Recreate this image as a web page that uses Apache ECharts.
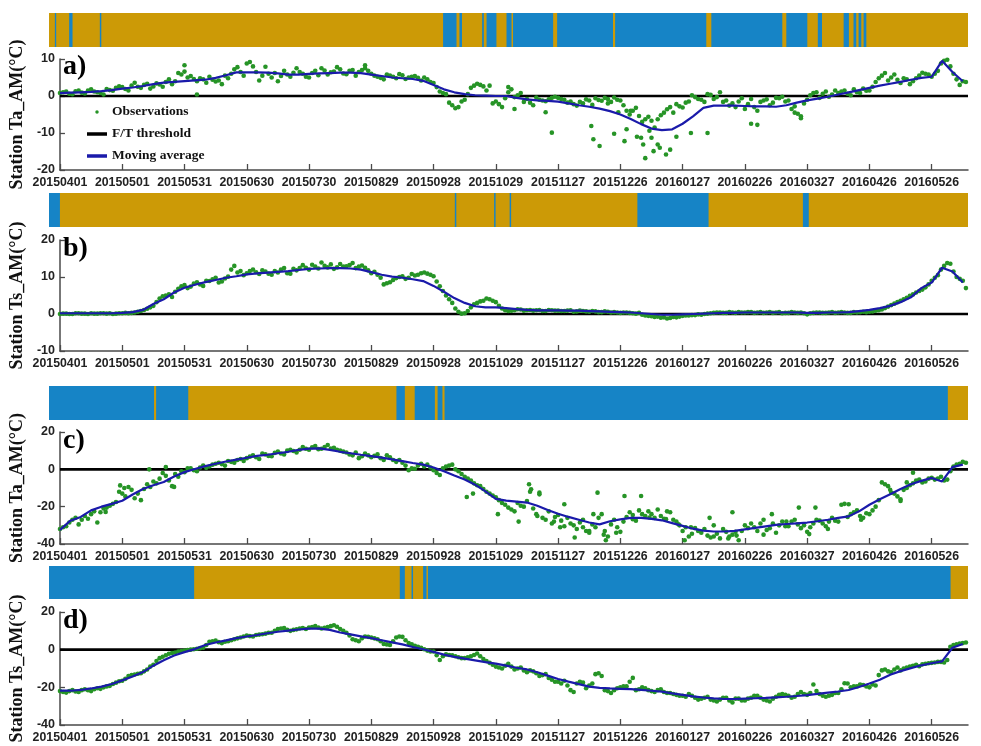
<!DOCTYPE html>
<html><head><meta charset="utf-8">
<script src="https://cdn.jsdelivr.net/npm/echarts@6/dist/echarts.min.js"></script>
<style>html,body{margin:0;padding:0;background:#fff}#c{width:981px;height:746px}</style>
</head><body><div id="c"></div>
<script>
// ---------------- DATA ----------------
const tickLabels = ['20150401','20150501','20150531','20150630','20150730','20150829','20150928','20151029','20151127','20151226','20160127','20160226','20160327','20160426','20160526'];
const X_MAX = 437.5;    // last day index shown
const OBS_STEP = 3;     // observation samples every 3 days
const OBS2_OFFSET = 1.5;// second observation set sits half-way between the first
const MA_STEP = 5;      // moving average sampled every 5 days

// Panel a: station Ta_AM
const obsA = [0.8,1.2,0.5,1.5,0.7,1.8,1.0,0.4,1.6,2.2,
  2.4,1.5,3.6,2.2,3.3,2.6,3.1,3.8,3.2,6.2,
  6.6,5.4,4.0,4.5,5.2,3.9,3.2,4.8,7.2,6.5,
  8.8,8.0,4.2,7.9,5.0,4.0,6.8,5.2,7.5,6.0,
  5.0,6.8,7.5,5.8,6.6,7.2,5.9,7.0,6.5,7.5,
  6.0,5.2,4.5,5.5,4.8,5.6,5.0,5.4,4.2,4.5,
  3.5,1.2,0.5,-2.5,-3.0,-1.0,2.2,3.3,2.6,2.8,
  -1.5,-3.0,2.4,-0.3,0.8,-0.8,-2.5,-1.0,-1.4,-0.5,
  -0.5,-1.0,-1.5,-2.6,-2.0,-1.2,-0.6,-1.3,-0.8,-0.4,
  -1.2,-4.0,-4.0,-5.4,-6.3,-6.7,-6.3,-4.5,-3.0,-2.2,
  -3.1,-1.5,-0.3,-1.0,0.5,-0.8,1.0,-1.2,-2.0,-1.5,
  -3.5,-0.8,-4.0,-1.2,-2.5,-0.5,-0.2,-1.2,-2.8,-5.5,
  -1.0,0.8,-0.5,1.2,0.4,0.8,1.5,0.2,1.0,2.0,
  1.5,3.8,5.5,4.2,5.8,3.5,4.5,4.0,5.5,6.0,
  5.2,6.8,9.5,8.0,4.5,4.0];
const obsA2 = [1.0,0.6,1.3,0.9,1.5,1.2,0.8,1.9,1.4,2.6,
  1.9,2.8,2.5,3.0,2.0,3.4,2.5,4.5,4.0,5.8,
  5.0,4.6,4.8,3.6,4.4,4.2,5.5,6.0,7.8,5.5,
  9.2,6.5,5.5,6.0,6.2,5.4,5.8,6.3,6.5,5.2,
  6.2,5.6,6.9,6.4,7.8,6.1,6.8,5.5,7.0,6.8,
  5.5,4.9,5.8,5.2,5.9,4.6,5.2,4.9,5.0,3.8,
  2.4,0.8,-1.8,-3.3,-1.5,0.5,2.8,3.0,1.5,-2.0,
  -2.2,-0.6,1.8,0.2,-1.6,-1.8,-0.4,-1.2,-0.9,-0.2,
  -0.8,-1.8,-2.2,-1.6,-0.9,-2.4,-1.1,-0.5,-1.6,-1.0,
  -2.5,-5.0,-3.2,-7.0,-5.6,-8.5,-5.2,-3.6,-4.5,-2.8,
  -1.8,0.2,-0.8,-1.6,0.3,-0.3,-1.6,-2.6,-3.0,-0.6,
  -2.2,-3.0,-1.6,-0.9,-1.8,-0.6,-1.5,-3.5,-4.8,-2.0,
  0.2,1.0,0.6,-0.2,1.5,1.2,0.6,1.8,0.8,1.4,
  2.5,4.8,6.2,5.0,4.4,4.8,3.2,4.8,6.3,5.8,
  6.0,8.8,9.8,6.0,3.0,3.8];
const extraDayA = [60,66,91,147,216,219,234,237,256,257,260,264,267,269,272,273,275,278,280,281,282,284,285,286,288,289,292,294,297,304,312,333,336,354,357];
const extraValA = [8.3,0.4,10.5,8.3,1.0,-3.5,-4.4,-9.9,-8.1,-11.7,-13.5,-2.0,-10.2,-4.4,-12.2,-9.0,-4.0,-11.0,-11.3,-13.1,-16.8,-9.4,-11.3,-14.9,-13.1,-14.0,-15.8,-14.5,-11.0,-10.0,-10.0,-7.5,-7.8,-4.5,-6.0];
const maA = [0.8,0.9,1.0,1.1,1.3,1.6,2.0,2.3,2.7,3.2,
  3.6,3.8,4.0,4.2,4.4,4.9,5.6,6.4,6.4,6.4,
  6.3,6.1,5.8,5.8,6.0,6.1,6.2,6.3,6.3,6.2,
  5.8,5.4,5.0,4.8,4.6,4.1,3.0,1.8,1.0,0.5,
  0.2,0.1,0.0,0.0,-0.5,-0.9,-1.2,-1.3,-1.5,-2.0,
  -2.5,-2.9,-3.4,-4.1,-5.0,-6.2,-7.6,-8.8,-9.2,-9.0,
  -7.5,-5.5,-3.2,-2.6,-2.6,-2.6,-2.7,-2.8,-2.8,-2.9,
  -2.5,-1.8,-1.2,-0.7,-0.2,0.4,1.0,1.6,2.2,2.8,
  3.3,3.8,4.4,4.9,5.2,9.5,6.5,4.0];

// Panel b: station Ts_AM
const obsB = [0.0,0.1,0.0,0.2,0.1,0.2,0.1,0.2,0.2,0.1,
  0.2,0.2,0.4,0.8,1.4,2.2,4.2,5.0,4.6,6.8,
  7.8,7.4,8.6,7.6,8.9,9.8,8.8,10.1,13.0,11.6,
  11.0,12.0,10.8,11.5,10.6,11.2,12.4,10.9,11.8,13.2,
  12.0,12.8,13.9,12.6,12.2,13.5,12.9,13.8,12.8,12.5,
  11.0,10.6,8.0,8.6,9.7,10.2,9.8,10.4,11.0,10.9,
  10.2,7.5,5.0,3.0,0.6,0.2,1.8,3.0,3.6,4.0,
  3.2,1.5,0.8,1.0,1.2,1.0,0.9,1.1,0.8,1.0,
  0.9,0.8,1.0,0.7,0.8,0.6,0.7,0.5,0.6,0.5,
  0.3,0.4,0.2,0.3,-0.4,-0.6,-0.7,-0.9,-1.1,-0.9,
  -0.5,-0.4,-0.3,-0.2,0.1,0.3,0.4,0.3,0.4,0.5,
  0.4,0.5,0.4,0.3,0.5,0.4,0.2,0.3,0.4,0.4,
  -0.1,0.3,0.4,0.3,0.5,0.4,0.4,0.3,0.4,0.6,
  0.6,0.9,1.2,2.0,2.8,3.6,4.4,5.3,6.2,7.2,
  9.0,10.5,13.0,13.6,10.0,9.0];
const obsB2 = [0.1,0.0,0.2,0.1,0.0,0.1,0.2,0.1,0.0,0.2,
  0.3,0.3,0.6,1.1,1.8,3.2,4.8,5.3,6.0,7.5,
  7.0,8.2,8.0,9.0,9.4,8.5,9.6,12.0,11.2,10.5,
  11.6,11.3,11.8,10.9,11.6,12.0,11.0,12.2,12.4,12.5,
  13.3,12.3,13.0,13.4,12.6,12.8,13.2,12.4,13.1,11.8,
  11.4,9.8,8.3,9.2,10.0,9.5,10.8,10.6,11.2,10.6,
  8.8,6.2,4.0,1.5,0.1,0.8,2.6,3.4,4.2,3.6,
  2.2,1.0,0.9,1.3,0.9,1.1,1.0,0.8,1.1,0.9,
  0.8,0.9,0.6,0.9,0.7,0.8,0.5,0.7,0.4,0.4,
  0.4,0.3,0.1,-0.2,-0.5,-0.8,-1.0,-1.2,-0.8,-0.7,
  -0.4,-0.3,-0.1,0.0,0.2,0.4,0.3,0.5,0.3,0.4,
  0.5,0.3,0.5,0.4,0.3,0.5,0.3,0.5,0.3,0.2,
  0.2,0.4,0.3,0.4,0.3,0.5,0.3,0.5,0.5,0.5,
  0.7,1.0,1.6,2.4,3.2,4.0,4.9,5.8,6.6,8.0,
  9.8,12.0,13.8,11.5,9.5,7.0];
const extraDayB = [];
const extraValB = [];
const maB = [0.2,0.2,0.2,0.2,0.2,0.2,0.3,0.5,1.1,2.7,
  4.0,5.8,7.1,7.9,8.6,9.2,9.8,10.2,10.7,11.0,
  11.2,11.4,11.6,11.9,12.2,12.3,12.4,12.4,12.3,12.0,
  11.3,10.6,10.1,9.8,9.4,8.9,7.6,6.0,4.3,3.0,
  2.1,1.8,1.8,1.6,1.3,1.1,1.0,1.0,1.0,0.9,
  0.9,0.8,0.7,0.6,0.5,0.4,0.2,0.0,-0.2,-0.2,
  -0.1,0.0,0.1,0.2,0.3,0.3,0.4,0.4,0.4,0.4,
  0.4,0.4,0.3,0.3,0.4,0.4,0.5,0.8,1.1,1.6,
  2.2,3.2,4.5,7.0,8.5,12.5,11.5,8.5];

// Panel c: station Ta_AM
const obsC = [-32.0,-30.5,-27.0,-29.5,-25.0,-24.0,-28.5,-21.0,-19.5,-17.5,
  -13.0,-9.5,-15.5,-16.5,-8.0,-6.5,-5.0,-3.5,-9.0,-4.0,
  -1.5,0.5,-1.0,2.0,1.5,3.0,2.8,4.5,3.5,5.5,
  6.0,7.5,5.5,8.0,7.0,9.5,8.0,10.5,9.0,12.0,
  10.5,12.5,11.0,13.0,11.5,10.0,9.0,7.5,6.0,8.5,
  6.5,8.0,5.0,6.5,4.0,3.5,-0.5,0.3,3.0,2.5,
  -0.5,-3.0,1.5,2.5,-1.0,-4.0,-6.0,-8.5,-10.5,-13.0,
  -15.0,-18.0,-20.5,-22.5,-19.5,-17.0,-21.0,-12.5,-27.0,-29.0,
  -24.5,-30.5,-29.0,-32.0,-27.0,-34.0,-31.0,-24.0,-36.0,-27.0,
  -33.5,-25.5,-24.5,-22.0,-25.0,-24.0,-21.5,-26.5,-23.0,-28.0,
  -33.0,-36.0,-31.5,-34.0,-35.5,-30.0,-37.0,-33.5,-35.0,-38.0,
  -30.0,-29.0,-33.0,-27.0,-31.5,-34.0,-28.0,-30.5,-27.0,-31.5,
  -33.5,-29.0,-27.5,-30.5,-26.0,-28.0,-18.5,-24.0,-22.0,-26.0,
  -24.0,-20.0,-7.0,-9.0,-13.0,-16.0,-10.0,-7.5,-5.5,-6.5,
  -4.5,-5.0,-6.0,-1.0,2.5,4.0];
const obsC2 = [-31.0,-28.5,-26.0,-27.0,-26.5,-22.5,-23.0,-20.5,-18.5,-12.0,
  -14.5,-11.0,-13.0,-10.5,-9.5,-7.5,-2.0,-6.0,-2.5,-1.0,
  0.5,-0.5,1.0,0.8,2.5,3.5,2.0,4.0,5.0,4.5,
  6.8,6.5,8.5,7.2,8.8,8.5,10.0,9.8,10.5,11.0,
  11.8,10.8,12.0,11.2,10.5,9.5,8.0,9.0,7.0,7.5,
  7.2,6.0,7.5,5.0,5.0,2.0,0.5,2.0,1.5,1.0,
  -2.0,0.5,2.0,0.0,-2.5,-5.0,-7.5,-9.0,-12.0,-14.0,
  -16.5,-19.0,-21.5,-18.0,-20.0,-12.0,-24.0,-26.0,-22.5,-25.5,
  -27.5,-26.0,-30.0,-28.5,-33.0,-29.5,-26.0,-33.0,-29.5,-31.0,
  -28.0,-23.0,-27.5,-24.0,-22.5,-26.0,-25.0,-22.5,-27.0,-30.0,
  -31.0,-34.5,-33.0,-32.0,-36.5,-34.5,-32.0,-36.0,-33.5,-33.0,
  -31.5,-31.0,-29.0,-32.5,-29.0,-30.0,-30.5,-28.0,-29.5,-30.0,
  -31.0,-27.0,-29.0,-28.0,-27.5,-19.0,-25.5,-23.0,-25.0,-23.5,
  -22.0,-16.5,-8.0,-12.5,-14.5,-11.0,-8.5,-6.0,-7.0,-5.0,
  -5.5,-4.0,-5.5,1.5,3.0,3.5];
const extraDayC = [22,29,31,43,51,55,196,199,211,221,226,227,230,231,238,241,243,248,252,255,257,259,262,263,268,272,276,280,284,292,298,301,304,313,315,322,324,326,339,343,350,356,361,364,370,380,386,400,405,408,411];
const extraValC = [-22.8,-8.6,-10.0,0.0,1.2,-9.4,-14.8,-13.0,-24.0,-28.0,-8.0,-10.7,-25.0,-13.4,-28.0,-31.0,-18.7,-36.5,-31.0,-33.0,-24.0,-12.5,-35.0,-38.0,-34.0,-14.3,-26.7,-14.3,-25.8,-26.7,-29.4,-38.0,-31.0,-26.0,-36.0,-37.0,-23.0,-35.5,-35.0,-24.0,-28.0,-20.5,-34.7,-20.5,-32.0,-18.7,-27.0,-11.0,-17.0,-7.0,-1.8];
const maC = [-32.5,-27.5,-25.5,-22.0,-20.0,-18.5,-16.8,-13.5,-10.5,-8.5,
  -6.8,-3.8,-1.5,0.2,1.7,3.0,4.2,5.2,6.2,7.2,
  7.8,8.6,9.4,10.4,11.1,11.2,10.4,9.4,8.6,7.8,
  7.1,6.3,5.3,4.4,3.4,2.5,1.0,-1.0,-3.3,-5.5,
  -8.2,-11.8,-15.8,-16.8,-17.3,-17.8,-19.5,-21.8,-23.8,-25.5,
  -27.0,-28.5,-29.5,-27.8,-26.8,-26.0,-26.0,-26.5,-27.3,-28.8,
  -30.3,-31.8,-32.8,-33.3,-33.3,-33.0,-32.2,-31.4,-30.6,-29.8,
  -29.3,-28.9,-28.5,-27.8,-27.0,-26.0,-25.2,-22.5,-19.0,-16.0,
  -13.4,-10.5,-8.0,-6.2,-4.6,-6.5,1.2,2.5];

// Panel d: station Ts_AM
const obsD = [-22.0,-22.8,-21.5,-22.5,-21.0,-22.0,-20.5,-20.0,-19.2,-17.5,
  -16.5,-14.0,-13.2,-12.5,-10.5,-8.0,-4.5,-3.0,-1.8,-1.0,
  -0.5,0.0,0.5,1.0,4.2,4.8,3.5,4.5,5.5,6.5,
  7.5,7.0,8.0,8.5,9.0,11.0,11.5,10.0,10.8,11.5,
  11.8,12.5,11.2,12.0,13.0,11.0,9.0,5.5,4.5,7.0,
  6.5,5.5,3.0,2.5,6.5,6.8,3.5,2.0,1.0,-0.5,
  -1.0,-5.5,-2.5,-3.0,-4.0,-4.5,-3.5,-2.0,-5.0,-7.0,
  -9.0,-10.0,-7.5,-10.5,-9.5,-12.0,-11.5,-14.0,-13.0,-16.0,
  -17.0,-16.5,-21.5,-18.0,-17.5,-19.0,-13.0,-14.0,-22.0,-21.5,
  -20.0,-19.5,-15.0,-21.0,-20.5,-22.0,-21.5,-22.5,-23.0,-24.0,
  -24.5,-23.5,-25.5,-26.0,-25.0,-27.0,-26.5,-25.5,-28.0,-26.0,
  -27.0,-25.5,-24.5,-26.5,-27.5,-25.0,-23.5,-24.5,-25.0,-22.5,
  -24.0,-18.5,-23.5,-25.0,-24.0,-23.0,-17.8,-20.0,-19.5,-18.8,
  -20.0,-19.0,-11.0,-11.5,-10.5,-11.0,-9.5,-8.5,-8.8,-7.5,
  -7.0,-6.5,-6.8,1.5,2.8,3.5];
const obsD2 = [-22.5,-22.0,-22.2,-21.5,-21.5,-21.0,-20.8,-19.5,-18.2,-16.8,
  -15.5,-13.5,-12.8,-11.5,-9.0,-6.0,-3.8,-2.2,-1.5,-0.8,
  -0.2,0.2,0.8,2.5,4.5,4.0,4.2,5.0,6.0,7.0,
  7.2,7.8,8.2,9.0,10.0,11.2,10.5,10.5,11.2,11.0,
  12.0,11.8,11.6,12.5,12.2,10.0,7.5,5.0,6.0,6.8,
  6.0,4.5,2.8,4.5,7.0,5.0,2.8,1.5,0.2,-1.0,
  -3.0,-3.5,-2.8,-3.5,-4.5,-4.0,-2.8,-3.5,-6.0,-8.0,
  -9.5,-8.5,-9.0,-10.0,-11.0,-11.0,-12.5,-13.5,-15.0,-17.0,
  -18.0,-19.0,-22.5,-17.0,-20.5,-18.0,-12.5,-21.5,-23.0,-20.5,
  -19.5,-17.0,-21.5,-20.0,-21.5,-22.5,-21.0,-23.0,-23.5,-24.5,
  -25.0,-24.5,-26.5,-25.5,-26.5,-27.5,-25.5,-27.0,-26.0,-27.0,
  -26.0,-24.5,-25.5,-27.0,-26.0,-24.0,-24.0,-25.5,-23.5,-23.5,
  -23.0,-22.0,-24.5,-24.5,-23.0,-21.0,-18.0,-19.5,-18.5,-19.5,
  -18.5,-13.5,-10.5,-12.0,-9.5,-10.0,-9.0,-8.0,-7.8,-7.2,
  -6.8,-6.5,-5.5,2.5,3.2,3.8];
const extraDayD = [];
const extraValD = [];
const maD = [-21.8,-21.8,-21.4,-20.6,-19.6,-18.2,-16.3,-14.2,-11.9,-8.5,
  -5.6,-3.1,-1.3,0.3,2.5,3.8,4.9,6.1,7.0,7.8,
  8.7,9.5,10.1,10.7,11.2,11.2,10.5,9.1,8.1,7.1,
  6.1,5.0,3.9,2.8,1.4,0.2,-1.2,-2.6,-3.8,-4.8,
  -5.7,-6.6,-7.4,-8.5,-9.6,-10.5,-12.0,-13.8,-15.6,-17.0,
  -18.3,-19.6,-20.3,-20.6,-20.8,-21.0,-21.4,-21.8,-22.3,-23.2,
  -24.0,-24.8,-25.4,-25.9,-26.2,-26.2,-26.0,-25.8,-25.6,-25.3,
  -25.0,-24.6,-24.1,-23.5,-22.8,-22.2,-21.4,-19.8,-18.0,-16.0,
  -13.3,-11.4,-9.8,-8.3,-7.2,-6.2,1.0,3.0];

// Freeze/thaw state strips: [startDay, endDay, state] (1 = frozen, 0 = thawed); first run is the background
const stripA = [[0,437.5,0],[2.8,3.4,1],[9.6,11.2,1],[24.2,24.9,1],[187.6,194.0,1],[195.4,196.6,1],[206.2,207.0,1],[208.3,213.0,1],[217.8,220.2,1],[220.9,240.0,1],[241.9,268.5,1],[269.5,312.9,1],[315.3,349.1,1],[351.0,361.0,1],[366.0,368.0,1],[378.3,380.8,1],[383.0,384.3,1],[385.4,386.7,1],[387.8,389.1,1]];
const stripB = [[0,437.5,0],[0,5.2,1],[193.2,193.9,1],[211.9,212.6,1],[219.3,220.0,1],[280.1,314.0,1],[358.9,361.7,1]];
const stripC = [[0,437.5,1],[50.0,51.0,0],[66.3,165.4,0],[169.4,174.1,0],[183.7,185.0,0],[187.3,188.3,0],[427.9,437.5,0]];
const stripD = [[0,437.5,1],[69.1,167.0,0],[169.4,172.6,0],[173.3,178.1,0],[179.7,180.4,0],[429.2,437.5,0]];

const yNames = ['Station Ta_AM(°C)','Station Ts_AM(°C)','Station Ta_AM(°C)','Station Ts_AM(°C)'];
const panelLetters = ['a)','b)','c)','d)'];
const yRanges = [[-20,10,10],[-10,20,10],[-40,20,20],[-40,20,20]];

// ---------------- STYLE / LAYOUT ----------------
const BLUE = '#1684c6', GOLD = '#cc9a06', GREEN = '#269426', NAVY = '#1a1aaa';
const AXIS = '#4a4a4a';
const NUMFONT = "'Liberation Sans',Arial,sans-serif";
const SERIF = "'Liberation Serif','Times New Roman',serif";
const layout = [
  {strip:[13,34], plot:[59,111], letter:53},
  {strip:[193,34], plot:[240,111], letter:235},
  {strip:[386,34], plot:[432,112], letter:427},
  {strip:[566,33], plot:[612,113], letter:607}
];
const panels = [
  {obs:obsA, obs2:obsA2, ma:maA, exD:extraDayA, exV:extraValA, strip:stripA},
  {obs:obsB, obs2:obsB2, ma:maB, exD:extraDayB, exV:extraValB, strip:stripB},
  {obs:obsC, obs2:obsC2, ma:maC, exD:extraDayC, exV:extraValC, strip:stripC},
  {obs:obsD, obs2:obsD2, ma:maD, exD:extraDayD, exV:extraValD, strip:stripD}
];

const grid = [], xAxis = [], yAxis = [], series = [], graphic = [];
const tickVals = tickLabels.map((_, i) => i * 30);

function renderStrip(params, api) {
  const s = api.value(0), e = api.value(1), st = api.value(2);
  const p0 = api.coord([s, 1]), p1 = api.coord([e, 0]);
  return {type:'rect', shape:{x:p0[0], y:p0[1], width:Math.max(p1[0]-p0[0], 1.3), height:p1[1]-p0[1]},
          style:{fill: st === 1 ? BLUE : GOLD}};
}

panels.forEach((p, i) => {
  const L = layout[i];
  const gs = 2*i, gp = 2*i+1;
  grid.push({left:49, right:13, top:L.strip[0], height:L.strip[1]});
  grid.push({left:49, right:13, top:L.plot[0], height:L.plot[1]});
  xAxis.push({gridIndex:gs, type:'value', min:0, max:X_MAX, show:false});
  yAxis.push({gridIndex:gs, type:'value', min:0, max:1, show:false});
  xAxis.push({gridIndex:gp, type:'value', min:0, max:X_MAX, splitLine:{show:false},
    axisLine:{show:true, onZero:false, lineStyle:{color:AXIS, width:1.5}},
    axisTick:{show:true, inside:true, length:6, customValues:tickVals, lineStyle:{color:AXIS, width:1.3}},
    axisLabel:{customValues:tickVals, formatter:v => tickLabels[Math.round(v/30)] || '', margin:7,
      showMinLabel:true, showMaxLabel:true, hideOverlap:false,
      fontFamily:NUMFONT, fontWeight:'bold', fontSize:12.3, color:'#222'}});
  const yr = yRanges[i];
  yAxis.push({gridIndex:gp, type:'value', min:yr[0], max:yr[1], interval:yr[2], splitLine:{show:false},
    axisLine:{show:true, lineStyle:{color:AXIS, width:1.5}},
    axisTick:{show:true, inside:true, length:5, lineStyle:{color:AXIS, width:1.3}},
    axisLabel:{margin:5, fontFamily:NUMFONT, fontWeight:'bold', fontSize:12.5, color:'#222'},
    name:yNames[i], nameLocation:'middle', nameGap:18,
    nameTextStyle:{fontFamily:SERIF, fontWeight:'bold', fontSize:18, color:'#111'}});
  series.push({type:'custom', xAxisIndex:gs, yAxisIndex:gs, renderItem:renderStrip,
    encode:{x:[0,1]}, data:p.strip, silent:true, clip:true});
  series.push({type:'line', name:'F/T threshold', xAxisIndex:gp, yAxisIndex:gp, data:[[0,0],[X_MAX,0]],
    symbol:'none', showSymbol:false, lineStyle:{color:'#000', width:2.6}, itemStyle:{color:'#000'}, z:2});
  const obsData = p.obs.map((v, k) => [k*OBS_STEP, v])
    .concat(p.obs2.map((v, k) => [k*OBS_STEP + OBS2_OFFSET, v]))
    .concat(p.exD.map((d, k) => [d, p.exV[k]]));
  series.push({type:'scatter', name:'Observations', xAxisIndex:gp, yAxisIndex:gp, data:obsData,
    symbol:'circle', symbolSize:4.6, itemStyle:{color:GREEN, opacity:1}, z:3});
  series.push({type:'line', name:'Moving average', xAxisIndex:gp, yAxisIndex:gp,
    data:p.ma.map((v, k) => [k*MA_STEP, v]), symbol:'none', showSymbol:false,
    lineStyle:{color:NAVY, width:2.2}, itemStyle:{color:NAVY}, z:4});
  graphic.push({type:'text', left:63, top:L.letter, style:{text:panelLetters[i], font:"bold 28px 'Liberation Serif'", fill:'#000'}});
});

const chart = echarts.init(document.getElementById('c'), null, {renderer:'canvas'});
chart.setOption({
  animation:false,
  backgroundColor:'#fff',
  grid, xAxis, yAxis, series, graphic,
  legend:{data:[{name:'Observations', icon:'circle'},{name:'F/T threshold', icon:'rect'},{name:'Moving average', icon:'rect'}],
    orient:'vertical', left:82, top:100, itemWidth:20, itemHeight:3.5, itemGap:8, selectedMode:false,
    textStyle:{fontFamily:SERIF, fontWeight:'bold', fontSize:13.5, color:'#111'}}
});
</script>
</body></html>
